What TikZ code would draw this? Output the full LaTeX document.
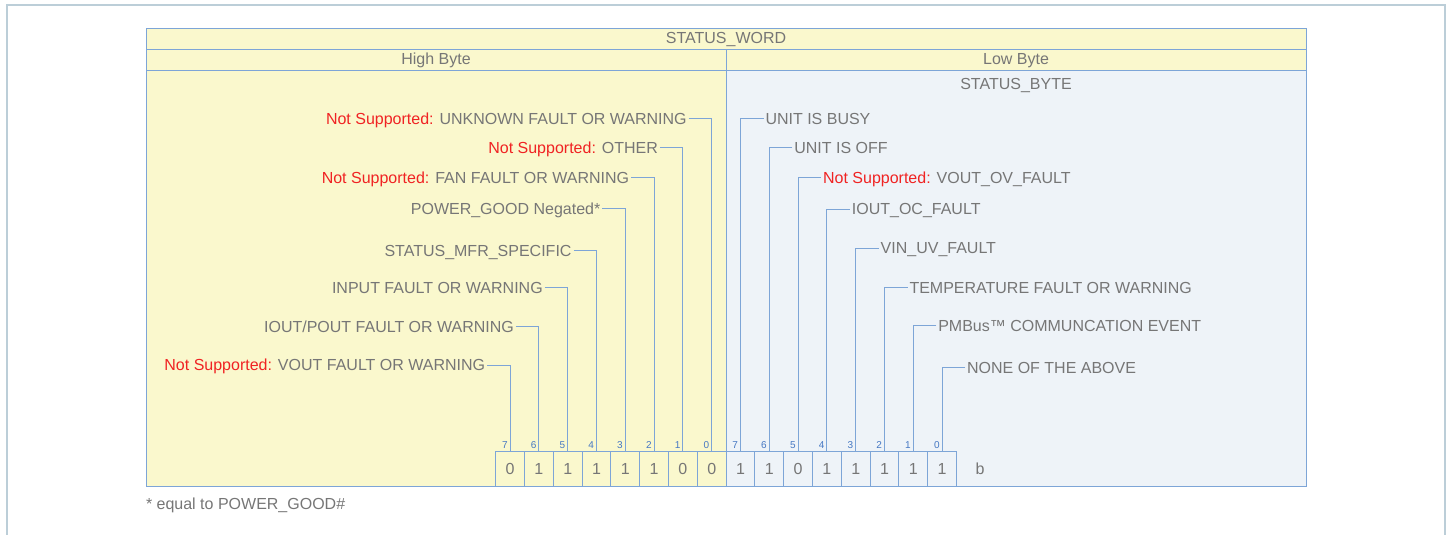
\documentclass[tikz,border=0pt]{standalone}
\usepackage{fontspec}
\setmainfont{Liberation Sans}
\definecolor{hi-byte}{RGB}{250,248,205}
\definecolor{lo-byte}{RGB}{238,243,248}
\definecolor{rule}{RGB}{125,165,215}
\definecolor{frame}{RGB}{188,206,216}
\definecolor{txt}{RGB}{118,118,118}
\definecolor{unsup}{RGB}{240,35,35}
\definecolor{bitno}{RGB}{70,120,195}
\usetikzlibrary{
  positioning      % below right=... of
}
\newcommand{\notsup}{\textcolor{unsup}{Not Supported:} }
\tikzset{
  every node/.style = {
    text=txt,
    font=\fontsize{16}{19}\selectfont,
    text height=11pt,
    text depth=0pt,
    inner sep=2pt,
    outer sep=0pt
  },
  hdr/.style = {draw=rule, fill=hi-byte, minimum height=21pt, inner sep=0pt},
  body/.style = {draw=rule, minimum width=580pt, minimum height=416pt},
  bith/.style = {draw=rule, fill=hi-byte, minimum width=28.8pt, minimum height=35pt, inner sep=0pt},
  bitl/.style = {bith, fill=lo-byte},
  bitnum/.style = {text=bitno, font=\fontsize{10}{12}\selectfont, text height=7pt, inner sep=1pt},
  lleft/.style = {anchor=east, xshift=-23pt},
  lright/.style = {anchor=west, xshift=23pt},
  wire/.style = {draw=rule, line width=0.9pt},
  outline/.style = {draw=frame, line width=1.2pt}
}

\begin{document}
\begin{tikzpicture}[x=1pt, y=-1pt, line width=0.9pt]

  \useasboundingbox (0,0) rectangle (1449,535);
  \draw[outline] (7,535) -- (7,5) -- (1445,5) -- (1445,535);

  %% table
  \node[hdr, minimum width=1160pt, anchor=north west] (SW) at (146,28) {STATUS\_WORD};
  \node[hdr, minimum width=580pt] (HB) [below right=0pt and 0pt of SW.south west] {High Byte};
  \node[hdr, minimum width=580pt] (LB) [right=0pt of HB] {Low Byte};
  \node[body, fill=hi-byte] (HBody) [below right=0pt and 0pt of HB.south west] {};
  \node[body, fill=lo-byte] (LBody) [right=0pt of HBody] {};
  \node (SB) [below=6pt of LB] {STATUS\_BYTE};

  %% bits
  \node[bith, anchor=north west] (H7) at (495.7,451) {0};
  \node[bith] (H6) [right=0pt of H7] {1};
  \node[bith] (H5) [right=0pt of H6] {1};
  \node[bith] (H4) [right=0pt of H5] {1};
  \node[bith] (H3) [right=0pt of H4] {1};
  \node[bith] (H2) [right=0pt of H3] {1};
  \node[bith] (H1) [right=0pt of H2] {0};
  \node[bith] (H0) [right=0pt of H1] {0};
  \node[bitl] (L7) [right=0pt of H0] {1};
  \node[bitl] (L6) [right=0pt of L7] {1};
  \node[bitl] (L5) [right=0pt of L6] {0};
  \node[bitl] (L4) [right=0pt of L5] {1};
  \node[bitl] (L3) [right=0pt of L4] {1};
  \node[bitl] (L2) [right=0pt of L3] {1};
  \node[bitl] (L1) [right=0pt of L2] {1};
  \node[bitl] (L0) [right=0pt of L1] {1};
  \node (B) [right=17pt of L0] {b};

  \node[bitnum] (nH7) [above left=1.5pt and 1.5pt of H7.north] {7};
  \node[bitnum] (nH6) [above left=1.5pt and 1.5pt of H6.north] {6};
  \node[bitnum] (nH5) [above left=1.5pt and 1.5pt of H5.north] {5};
  \node[bitnum] (nH4) [above left=1.5pt and 1.5pt of H4.north] {4};
  \node[bitnum] (nH3) [above left=1.5pt and 1.5pt of H3.north] {3};
  \node[bitnum] (nH2) [above left=1.5pt and 1.5pt of H2.north] {2};
  \node[bitnum] (nH1) [above left=1.5pt and 1.5pt of H1.north] {1};
  \node[bitnum] (nH0) [above left=1.5pt and 1.5pt of H0.north] {0};
  \node[bitnum] (nL7) [above left=1.5pt and 1.5pt of L7.north] {7};
  \node[bitnum] (nL6) [above left=1.5pt and 1.5pt of L6.north] {6};
  \node[bitnum] (nL5) [above left=1.5pt and 1.5pt of L5.north] {5};
  \node[bitnum] (nL4) [above left=1.5pt and 1.5pt of L4.north] {4};
  \node[bitnum] (nL3) [above left=1.5pt and 1.5pt of L3.north] {3};
  \node[bitnum] (nL2) [above left=1.5pt and 1.5pt of L2.north] {2};
  \node[bitnum] (nL1) [above left=1.5pt and 1.5pt of L1.north] {1};
  \node[bitnum] (nL0) [above left=1.5pt and 1.5pt of L0.north] {0};

  %% labels
  \node[lleft] (UNK)   at (H0.north |- 0,118.8) {\notsup UNKNOWN FAULT OR WARNING};
  \node[lleft] (OTH)   at (H1.north |- 0,147.5) {\notsup OTHER};
  \node[lleft] (FAN)   at (H2.north |- 0,177.5) {\notsup FAN FAULT OR WARNING};
  \node[lleft] (PG)    at (H3.north |- 0,208.8) {POWER\_GOOD Negated*};
  \node[lleft] (MFR)   at (H4.north |- 0,250.5) {STATUS\_MFR\_SPECIFIC};
  \node[lleft] (INF)   at (H5.north |- 0,287.5) {INPUT FAULT OR WARNING};
  \node[lleft] (IOUTF) at (H6.north |- 0,326.5) {IOUT/POUT FAULT OR WARNING};
  \node[lleft] (VOUTF) at (H7.north |- 0,365.2) {\notsup VOUT FAULT OR WARNING};

  \node[lright] (BUSY) at (L7.north |- 0,118.8) {UNIT IS BUSY};
  \node[lright] (OFF)  at (L6.north |- 0,147.5) {UNIT IS OFF};
  \node[lright] (VOV)  at (L5.north |- 0,177.5) {\notsup VOUT\_OV\_FAULT};
  \node[lright] (IOC)  at (L4.north |- 0,209.2) {IOUT\_OC\_FAULT};
  \node[lright] (VUV)  at (L3.north |- 0,248.3) {VIN\_UV\_FAULT};
  \node[lright] (TEMP) at (L2.north |- 0,287.5) {TEMPERATURE FAULT OR WARNING};
  \node[lright] (COMM) at (L1.north |- 0,325.8) {PMBus™ COMMUNCATION EVENT};
  \node[lright] (NONE) at (L0.north |- 0,367.5) {NONE OF THE ABOVE};

  %% wires
  \draw[wire] (UNK.east)   -| (H0.north);
  \draw[wire] (OTH.east)   -| (H1.north);
  \draw[wire] (FAN.east)   -| (H2.north);
  \draw[wire] (PG.east)    -| (H3.north);
  \draw[wire] (MFR.east)   -| (H4.north);
  \draw[wire] (INF.east)   -| (H5.north);
  \draw[wire] (IOUTF.east) -| (H6.north);
  \draw[wire] (VOUTF.east) -| (H7.north);

  \draw[wire] (BUSY.west) -| (L7.north);
  \draw[wire] (OFF.west)  -| (L6.north);
  \draw[wire] (VOV.west)  -| (L5.north);
  \draw[wire] (IOC.west)  -| (L4.north);
  \draw[wire] (VUV.west)  -| (L3.north);
  \draw[wire] (TEMP.west) -| (L2.north);
  \draw[wire] (COMM.west) -| (L1.north);
  \draw[wire] (NONE.west) -| (L0.north);

  %% footnote
  \node[anchor=west] (FN) at (144,504.2) {* equal to POWER\_GOOD\#};

\end{tikzpicture}
\end{document}
